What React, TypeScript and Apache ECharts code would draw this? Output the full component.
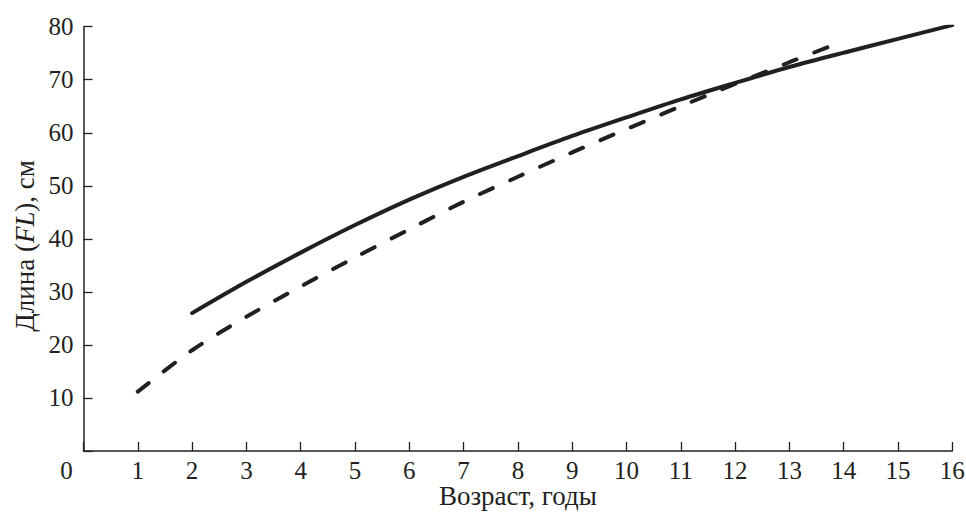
import React, { useEffect, useRef } from "react";
import * as echarts from "echarts";

const xTicks = [0, 1, 2, 3, 4, 5, 6, 7, 8, 9, 10, 11, 12, 13, 14, 15, 16];
const yTicks = [10, 20, 30, 40, 50, 60, 70, 80];

const solidAges = [2, 3, 4, 5, 6, 7, 8, 9, 10, 11, 12, 13, 14, 15, 16];
const solidLengths = [26.0, 31.9, 37.4, 42.6, 47.4, 51.7, 55.6, 59.4, 62.9, 66.3, 69.4, 72.4, 75.1, 77.7, 80.3];

const dashedAges = [1, 2, 3, 4, 5, 6, 7, 8, 9, 10, 11, 12, 13, 13.8];
const dashedLengths = [11.2, 19.0, 25.3, 31.0, 36.5, 41.8, 47.0, 51.7, 56.3, 60.7, 65.0, 69.2, 73.3, 76.5];

const xName = "Возраст, годы";
const yName = "Длина ({i|FL}), см";

const INK = "#231f20";
const FONT = "Liberation Serif";
const TICK_FS = 25;
const NAME_FS = 27;

export default function App() {
  const ref = useRef<HTMLDivElement>(null);
  useEffect(() => {
    if (!ref.current) return;
    const chart = echarts.init(ref.current, undefined, { renderer: "svg" });
    const solid = solidAges.map((a, i) => [a, solidLengths[i]]);
    const dashed = dashedAges.map((a, i) => [a, dashedLengths[i]]);
    chart.setOption({
      animation: false,
      backgroundColor: "#ffffff",
      textStyle: { fontFamily: FONT },
      grid: {
        left: 83.5,
        right: 13.7,
        top: 26.7,
        bottom: 61,
        containLabel: false,
        outerBoundsMode: "none",
      },
      xAxis: {
        type: "value",
        min: 0,
        max: 16,
        interval: 1,
        name: xName,
        nameLocation: "middle",
        nameGap: 32,
        nameMoveOverlap: false,
        nameTextStyle: { fontFamily: FONT, fontSize: NAME_FS, color: INK, lineHeight: 26 },
        axisLine: { show: true, onZero: false, lineStyle: { color: INK, width: 1.5 } },
        axisTick: { show: true, inside: true, length: 9, lineStyle: { color: INK, width: 1.3 } },
        splitLine: { show: false },
        axisLabel: {
          fontFamily: FONT,
          fontSize: TICK_FS,
          lineHeight: 22,
          color: INK,
          margin: 8,
          formatter: (v: number) => (v === 0 ? "{z|0}" : String(v)),
          rich: {
            z: { fontFamily: FONT, fontSize: TICK_FS, lineHeight: 22, color: INK, padding: [0, 34, 0, 0] },
          },
          customValues: xTicks,
        },
      },
      yAxis: {
        type: "value",
        min: 0,
        max: 80,
        interval: 10,
        name: yName,
        nameLocation: "middle",
        nameGap: 45,
        nameRotate: 90,
        nameMoveOverlap: false,
        nameTextStyle: {
          fontFamily: FONT,
          fontSize: NAME_FS,
          color: INK,
          padding: [0, 14, 0, 0],
          rich: { i: { fontFamily: FONT, fontSize: NAME_FS, color: INK, fontStyle: "italic" } },
        },
        axisLine: { show: true, onZero: false, lineStyle: { color: INK, width: 1.5 } },
        axisTick: { show: true, inside: true, length: 9, lineStyle: { color: INK, width: 1.3 } },
        splitLine: { show: false },
        axisLabel: {
          fontFamily: FONT,
          fontSize: TICK_FS,
          color: INK,
          margin: 10,
          formatter: (v: number) => (yTicks.includes(v) ? String(v) : ""),
        },
      },
      series: [
        {
          type: "line",
          data: solid,
          smooth: 0.3,
          showSymbol: false,
          lineStyle: { color: INK, width: 4, cap: "round" },
        },
        {
          type: "line",
          data: dashed,
          smooth: 0.3,
          showSymbol: false,
          lineStyle: { color: INK, width: 4, cap: "round", type: [14, 19] },
        },
      ],
    });
    return () => chart.dispose();
  }, []);
  return (
    <div
      ref={ref}
      style={{ position: "fixed", left: 0, top: 0, width: 966, height: 512, background: "#fff" }}
    />
  );
}
